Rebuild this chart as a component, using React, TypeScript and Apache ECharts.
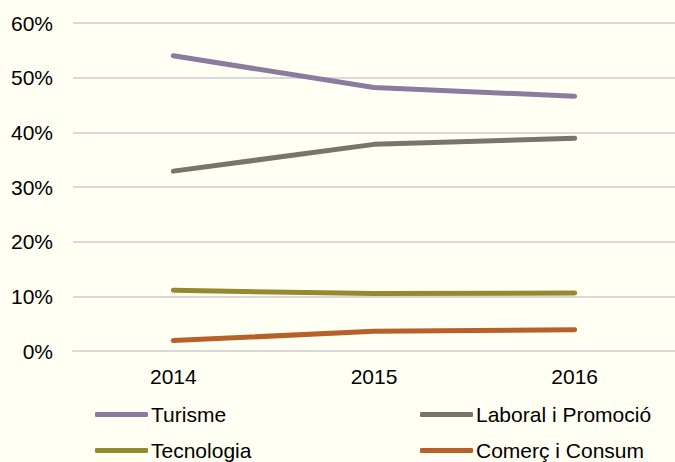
import React, { useEffect, useRef } from "react";
import * as echarts from "echarts";

const categories = ["2014", "2015", "2016"];
const turisme = [54.0, 48.2, 46.6];
const laboral = [32.9, 37.8, 38.9];
const tecnologia = [11.1, 10.5, 10.6];
const comerc = [1.9, 3.6, 3.9];
const seriesNames = ["Turisme", "Laboral i Promoció", "Tecnologia", "Comerç i Consum"];
const colors = ["#8B7B9E", "#76766C", "#948A2E", "#B8602A"];

export default function App() {
  const ref = useRef<HTMLDivElement>(null);
  useEffect(() => {
    if (!ref.current) return;
    const chart = echarts.init(ref.current, null, { renderer: "svg" });
    const font = "Liberation Sans, Arial, sans-serif";
    const fs = 21;
    const data = [turisme, laboral, tecnologia, comerc];
    const legendPos = [
      { left: 95, top: 404 },
      { left: 420, top: 404 },
      { left: 95, top: 440 },
      { left: 420, top: 440 },
    ];
    chart.setOption({
      animation: false,
      backgroundColor: "#FFFFF3",
      grid: { left: 73, top: 23, right: 0, height: 328 },
      xAxis: {
        type: "category",
        data: categories,
        boundaryGap: true,
        axisLine: { show: true, lineStyle: { color: "#D9D9D9", width: 2 } },
        axisTick: { show: false },
        axisLabel: { color: "#000", fontSize: fs, fontFamily: font, margin: 15 },
      },
      yAxis: {
        type: "value",
        min: 0,
        max: 60,
        interval: 10,
        axisLine: { show: false },
        axisTick: { show: false },
        splitLine: { lineStyle: { color: "#D9D9D9", width: 2 } },
        axisLabel: { color: "#000", fontSize: fs, fontFamily: font, margin: 20, formatter: "{value}%" },
      },
      legend: seriesNames.map((n, i) => ({
        data: [n],
        left: legendPos[i].left,
        top: legendPos[i].top,
        padding: 0,
        icon: "roundRect",
        itemWidth: 53,
        itemHeight: 5,
        textStyle: { color: "#000", fontSize: fs, fontFamily: font, padding: [0, 0, 0, -2] },
      })),
      series: seriesNames.map((n, i) => ({
        name: n,
        type: "line",
        data: data[i],
        symbol: "none",
        color: colors[i],
        lineStyle: { width: 5, color: colors[i], cap: "round", join: "round" },
      })),
    });
    return () => chart.dispose();
  }, []);
  return <div ref={ref} style={{ width: 675, height: 462, position: "absolute", left: 0, top: 0 }} />;
}
